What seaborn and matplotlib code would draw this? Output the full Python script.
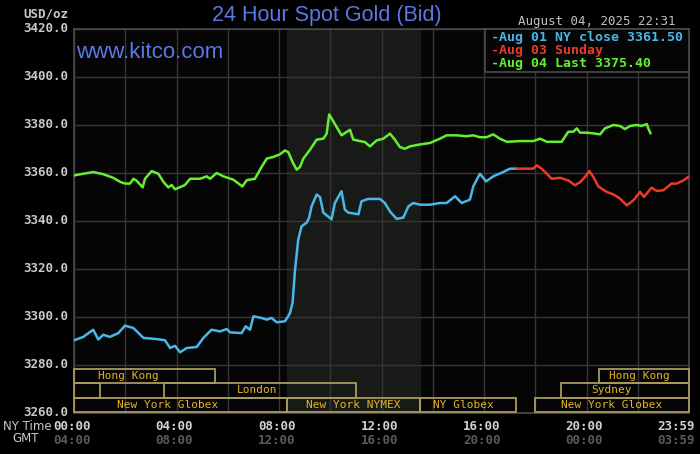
import matplotlib
matplotlib.use("Agg")
import matplotlib.pyplot as plt
import seaborn as sns
import pandas as pd
from matplotlib.patches import Rectangle

# ---------------- data ----------------
aug01_hours = [0.0, 0.36, 0.75, 0.95, 1.14, 1.40, 1.73, 1.99, 2.32, 2.71, 3.23, 3.55, 3.75, 3.94,
               4.14, 4.40, 4.79, 5.05, 5.37, 5.70, 5.96, 6.09, 6.54, 6.70, 6.87, 7.00, 7.32, 7.52,
               7.71, 7.91, 8.23, 8.36, 8.43, 8.53, 8.62, 8.75, 8.88, 9.08, 9.18, 9.27, 9.47, 9.60,
               9.73, 10.05, 10.18, 10.44, 10.57, 10.70, 11.10, 11.22, 11.48, 11.94, 12.13, 12.33,
               12.59, 12.85, 13.05, 13.24, 13.50, 13.89, 14.28, 14.54, 14.87, 15.13, 15.45, 15.58,
               15.84, 16.08, 16.36, 16.75, 17.01, 17.27]
aug01_price = [3290.3, 3291.7, 3294.7, 3290.6, 3292.6, 3291.7, 3293.3, 3296.4, 3295.4, 3291.3, 3290.8,
               3290.3, 3287.1, 3288.0, 3285.3, 3287.1, 3287.5, 3291.3, 3294.7, 3294.0, 3295.0, 3293.6,
               3293.3, 3296.1, 3294.7, 3300.3, 3299.6, 3298.9, 3299.6, 3297.8, 3298.2, 3300.3, 3301.7,
               3306.0, 3319.0, 3332.2, 3337.8, 3339.3, 3341.5, 3346.1, 3351.0, 3350.0, 3343.5, 3340.7,
               3347.5, 3352.4, 3344.7, 3343.5, 3342.8, 3348.2, 3349.2, 3349.2, 3347.5, 3344.0, 3340.9,
               3341.4, 3346.1, 3347.5, 3346.8, 3346.8, 3347.5, 3347.5, 3350.3, 3347.5, 3348.9, 3354.4,
               3359.7, 3356.5, 3358.6, 3360.4, 3361.8, 3361.8]

aug03_hours = [17.27, 17.50, 17.92, 18.06, 18.25, 18.45, 18.64, 18.97, 19.29, 19.55, 19.75, 19.94,
               20.11, 20.27, 20.46, 20.79, 21.05, 21.31, 21.57, 21.83, 22.09, 22.24, 22.54, 22.74,
               23.00, 23.32, 23.52, 23.78, 24.00]
aug03_price = [3361.8, 3361.8, 3361.8, 3363.2, 3361.8, 3359.7, 3357.6, 3358.0, 3356.9, 3354.9, 3356.2,
               3358.3, 3360.8, 3358.3, 3354.4, 3352.1, 3351.1, 3349.3, 3346.5, 3348.6, 3352.1, 3350.0,
               3353.9, 3352.5, 3352.8, 3355.6, 3355.6, 3356.9, 3358.6]

aug04_hours = [0.0, 0.75, 1.14, 1.53, 1.80, 1.99, 2.19, 2.32, 2.45, 2.68, 2.77, 3.03, 3.29, 3.49,
               3.68, 3.81, 3.94, 4.33, 4.53, 4.92, 5.18, 5.31, 5.57, 5.83, 6.22, 6.57, 6.74, 7.06,
               7.32, 7.52, 7.78, 8.04, 8.23, 8.36, 8.56, 8.69, 8.82, 8.95, 9.21, 9.47, 9.73, 9.86,
               9.96, 10.11, 10.44, 10.64, 10.77, 10.90, 11.16, 11.35, 11.55, 11.81, 12.07, 12.33,
               12.52, 12.72, 12.91, 13.11, 13.50, 13.89, 14.28, 14.54, 14.93, 15.32, 15.58, 15.84,
               16.10, 16.36, 16.62, 16.89, 17.40, 17.92, 18.19, 18.45, 19.03, 19.29, 19.49, 19.62,
               19.75, 20.01, 20.27, 20.53, 20.72, 21.05, 21.31, 21.50, 21.70, 21.96, 22.15, 22.35,
               22.41, 22.50]
aug04_price = [3359.0, 3360.4, 3359.5, 3358.0, 3356.3, 3355.6, 3355.6, 3357.6, 3356.7, 3354.0, 3357.6,
               3360.8, 3359.7, 3356.3, 3354.0, 3355.0, 3353.2, 3355.0, 3357.6, 3357.6, 3358.6, 3357.6,
               3360.0, 3358.6, 3357.2, 3354.4, 3357.0, 3357.6, 3362.5, 3366.0, 3366.7, 3367.8, 3369.4,
               3368.7, 3363.9, 3361.4, 3362.5, 3366.0, 3369.7, 3373.9, 3374.3, 3376.4, 3384.4, 3381.7,
               3375.7, 3377.1, 3378.0, 3373.9, 3373.3, 3372.9, 3371.1, 3373.6, 3374.3, 3376.4, 3373.9,
               3370.8, 3370.1, 3371.1, 3371.9, 3372.5, 3374.3, 3375.7, 3375.7, 3375.3, 3375.7, 3374.9,
               3374.9, 3376.1, 3374.3, 3373.0, 3373.3, 3373.3, 3374.3, 3373.0, 3373.0, 3377.2, 3377.2,
               3378.6, 3376.8, 3376.8, 3376.5, 3376.1, 3378.6, 3380.0, 3379.6, 3378.3, 3379.6, 3380.0,
               3379.6, 3380.4, 3378.6, 3376.5]

series_names = ["Aug 01 NY close 3361.50", "Aug 03 Sunday", "Aug 04 Last 3375.40"]
series_colors = ["#48b8ea", "#ec3a24", "#66ee33"]

y_ticks = [3260, 3280, 3300, 3320, 3340, 3360, 3380, 3400, 3420]
x_tick_hours = [0, 4, 8, 12, 16, 20, 23.98]
ny_time_labels = ["00:00", "04:00", "08:00", "12:00", "16:00", "20:00", "23:59"]
gmt_labels = ["04:00", "08:00", "12:00", "16:00", "20:00", "00:00", "03:59"]

nymex_start, nymex_end = 8.33, 13.5

# market sessions: (label, row, start hour, end hour, label hour)
session_names = ["Hong Kong", "Hong Kong", "", "London", "Sydney",
                 "New York Globex", "New York NYMEX", "NY Globex", "New York Globex"]
session_rows = [0, 0, 1, 1, 1, 2, 2, 2, 2]
session_start = [0.0, 20.5, 0.0, 3.5, 19.0, 0.0, 8.33, 13.5, 18.0]
session_end = [5.5, 24.0, 1.0, 11.0, 24.0, 8.33, 13.5, 17.25, 24.0]
session_label_hour = [2.13, 22.05, 0.5, 7.15, 20.96, 3.65, 10.9, 15.2, 20.98]

title = "24 Hour Spot Gold (Bid)"
timestamp = "August 04, 2025 22:31"

# ---------------- build ----------------
df = pd.concat([
    pd.DataFrame({"hour": aug01_hours, "price": aug01_price, "series": series_names[0]}),
    pd.DataFrame({"hour": aug03_hours, "price": aug03_price, "series": series_names[1]}),
    pd.DataFrame({"hour": aug04_hours, "price": aug04_price, "series": series_names[2]}),
], ignore_index=True)

sns.set_style("dark")
plt.rcParams["font.family"] = ["DejaVu Sans Mono", "DejaVu Sans"]

W, H = 700, 454
fig = plt.figure(figsize=(7.0, 4.54), dpi=100, facecolor="black")

def fx(px):
    return px / W

def fy(py):
    return 1 - py / H

ax = fig.add_axes([fx(74), fy(413), fx(689) - fx(74), fy(29) - fy(413)])
ax.set_facecolor("#050505")

ax.axvspan(nymex_start, nymex_end, color="#181a18", zorder=0)

ax.set_xlim(0, 24)
ax.set_ylim(3260, 3420)
ax.set_xticks(range(0, 25, 2))
ax.set_yticks(y_ticks)
ax.grid(True, color="#363636", linewidth=1.0)
ax.set_axisbelow(True)
ax.tick_params(length=0, labelbottom=False, labelleft=False)
for s in ax.spines.values():
    s.set_color("#4a4a4a")
    s.set_linewidth(1.2)

sns.lineplot(data=df, x="hour", y="price", hue="series", palette=series_colors,
             hue_order=series_names, estimator=None, sort=False, legend=False,
             linewidth=1.8, ax=ax, zorder=3)
ax.set_xlabel("")
ax.set_ylabel("")

# sessions
row_tops = [3278.3, 3272.5, 3266.25]
row_bottoms = [3272.5, 3266.25, 3260.4]
gold_edge = "#a89a60"
gold_text = "#e6b428"
for name, r, s0, s1, lh in zip(session_names, session_rows, session_start, session_end, session_label_hour):
    ax.add_patch(Rectangle((s0, row_bottoms[r]), s1 - s0, row_tops[r] - row_bottoms[r],
                           fill=False, edgecolor=gold_edge, linewidth=1.3, zorder=4, clip_on=False))
    if name:
        ax.text(lh, (row_tops[r] + row_bottoms[r]) / 2, name, color=gold_text, fontsize=8,
                ha="center", va="center", zorder=5)

# y tick labels
for v in y_ticks:
    yp = 29 + (3420 - v) * 2.4
    fig.text(fx(68), fy(yp), f"{v:.1f}", color="#c8c8c8", fontsize=9, fontweight="bold",
             ha="right", va="center")
fig.text(fx(68), fy(14), "USD/oz", color="#c8c8c8", fontsize=9, fontweight="bold",
         ha="right", va="center")

# x tick labels
for h, l1, l2 in zip(x_tick_hours, ny_time_labels, gmt_labels):
    xp = 74 + h * 25.625
    ha = "center"
    if h > 23:
        xp, ha = 695, "right"
    else:
        xp -= 2
    fig.text(fx(xp), fy(426), l1, color="#d2d2d2", fontsize=9, fontweight="bold", ha=ha, va="center")
    fig.text(fx(xp), fy(440), l2, color="#5a5a5a", fontsize=9, fontweight="bold", ha=ha, va="center")
fig.text(fx(3), fy(426), "NY Time", color="#c8c8c8", fontsize=8.5, ha="left", va="center",
         family=["DejaVu Sans", "DejaVu Sans Mono"])
fig.text(fx(12), fy(439), "GMT", color="#c8c8c8", fontsize=8.5, ha="left", va="center",
         family=["DejaVu Sans", "DejaVu Sans Mono"])

# title and watermark
fig.text(fx(327), fy(15), title, color="#5a78e6", fontsize=15.5, ha="center", va="center",
         family=["Liberation Sans", "DejaVu Sans"])
fig.text(fx(76), fy(53), "www.kitco.com", color="#5a78e6", fontsize=16, ha="left", va="center",
         family=["Liberation Sans", "DejaVu Sans"])
fig.text(fx(676), fy(22), timestamp, color="#c0c0c0", fontsize=9, ha="right", va="center")

# legend box
leg = Rectangle((fx(485), fy(72)), fx(689) - fx(485), fy(29) - fy(72), transform=fig.transFigure,
                facecolor="#050505", edgecolor="#4a4a4a", linewidth=1.2, zorder=10)
fig.add_artist(leg)
for i, (nm, c) in enumerate(zip(series_names, series_colors)):
    fig.text(fx(491), fy(37 + i * 13.5), "-" + nm, color=c, fontsize=9.5, fontweight="bold",
             ha="left", va="center", zorder=11)

fig.savefig("out.png", dpi=100, facecolor="black")
